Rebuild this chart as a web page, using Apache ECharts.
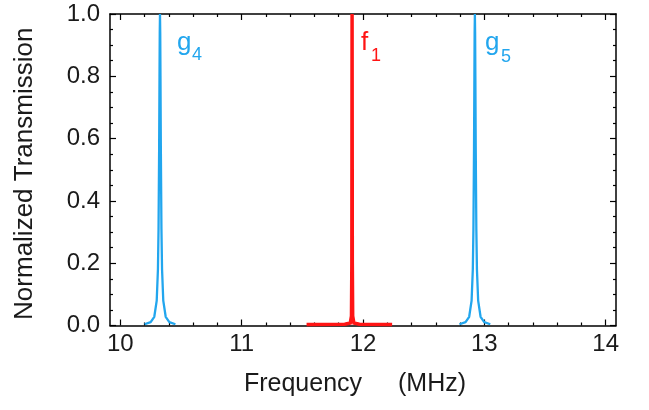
<!DOCTYPE html>
<html>
<head>
<meta charset="utf-8">
<script src="https://cdn.jsdelivr.net/npm/echarts@6/dist/echarts.min.js"></script>
<style>html,body{margin:0;padding:0;background:#fff}#c{width:649px;height:410px}</style>
</head>
<body>
<div id="c"></div>
<script>
// ---- data ----
const xMajorTicks = [10, 11, 12, 13, 14];
const xMinorTicks = [10.2, 10.4, 10.6, 10.8, 11.2, 11.4, 11.6, 11.8, 12.2, 12.4, 12.6, 12.8, 13.2, 13.4, 13.6, 13.8];
const yTickLabels = ['0.0', '0.2', '0.4', '0.6', '0.8', '1.0'];

// g4 resonance (blue)
const g4Freq = [10.200, 10.250, 10.280, 10.300, 10.310, 10.315, 10.320, 10.323, 10.325, 10.327, 10.329, 10.331, 10.334, 10.339, 10.344, 10.354, 10.374, 10.404, 10.454];
const g4Trans = [0.004, 0.011, 0.028, 0.080, 0.180, 0.310, 0.570, 0.800, 0.940, 1.000, 0.940, 0.800, 0.570, 0.310, 0.180, 0.080, 0.028, 0.011, 0.004];
// g5 resonance (blue)
const g5Freq = [12.795, 12.845, 12.875, 12.895, 12.905, 12.910, 12.915, 12.918, 12.920, 12.922, 12.924, 12.926, 12.929, 12.934, 12.939, 12.949, 12.969, 12.999, 13.049];
const g5Trans = [0.004, 0.011, 0.028, 0.080, 0.180, 0.310, 0.570, 0.800, 0.940, 1.000, 0.940, 0.800, 0.570, 0.310, 0.180, 0.080, 0.028, 0.011, 0.004];
// f1 resonance (red)
const f1Freq = [11.535, 11.850, 11.895, 11.905, 11.908, 11.910, 11.912, 11.915, 11.925, 11.970, 12.240];
const f1Trans = [0.003, 0.004, 0.008, 0.030, 0.200, 1.000, 0.200, 0.030, 0.008, 0.004, 0.003];

const BLUE = '#22a6ee';
const RED = '#ff1414';
const INK = '#1a1a1a';
const XMIN = 9.915, XMAX = 14.085;
const FONT = 'Liberation Sans, Arial, sans-serif';

function pairs(xs, ys) { return xs.map((x, i) => [x, ys[i]]); }

const chart = echarts.init(document.getElementById('c'), null, { renderer: 'canvas' });

const lineStyleAxis = { color: '#000', width: 1.5 };
function xAx(pos, ticks, len, showLine, showLabel) {
  return {
    type: 'value', position: pos, min: XMIN, max: XMAX,
    splitLine: { show: false },
    axisLine: { show: showLine, onZero: false, lineStyle: lineStyleAxis },
    axisTick: { show: true, inside: true, length: len, customValues: ticks, lineStyle: { color: '#000', width: 1.2 } },
    axisLabel: showLabel ? {
      show: true, customValues: ticks, margin: 7, color: INK,
      fontFamily: FONT, fontSize: 24,
      formatter: v => String(Math.round(v))
    } : { show: false }
  };
}

const option = {
  animation: false,
  backgroundColor: '#fff',
  grid: { left: 110, right: 33, top: 14, bottom: 84.5, containLabel: false },
  xAxis: [
    Object.assign(xAx('bottom', xMajorTicks, 6, true, true), {
      name: '{a|Frequency}{gap|}{a|(MHz)}',
      nameLocation: 'middle', nameGap: 46,
      nameTextStyle: {
        padding: [0, 16, 0, 0],
        rich: {
          a: { fontFamily: FONT, fontSize: 25, color: INK },
          gap: { width: 36 }
        }
      }
    }),
    xAx('bottom', xMinorTicks, 3, false, false),
    xAx('top', xMajorTicks, 6, true, false),
    xAx('top', xMinorTicks, 3, false, false)
  ],
  yAxis: [
    {
      type: 'value', position: 'left', min: 0, max: 1, interval: 0.2,
      splitLine: { show: false },
      axisLine: { show: true, onZero: false, lineStyle: lineStyleAxis },
      axisTick: { show: true, inside: true, length: 6, lineStyle: { color: '#000', width: 1.2 } },
      minorTick: { show: true, splitNumber: 4, length: 3, lineStyle: { color: '#000', width: 1.2 } },
      minorSplitLine: { show: false },
      axisLabel: {
        margin: 10, color: INK, fontFamily: FONT, fontSize: 24,
        formatter: v => yTickLabels[Math.round(v * 5)]
      },
      name: 'Normalized Transmission', nameLocation: 'middle', nameGap: 72,
      nameTextStyle: { fontFamily: FONT, fontSize: 26, color: INK, padding: [0, 8, 0, 0] }
    },
    {
      type: 'value', position: 'right', min: 0, max: 1, interval: 0.2,
      splitLine: { show: false },
      axisLine: { show: true, onZero: false, lineStyle: lineStyleAxis },
      axisTick: { show: true, inside: true, length: 6, lineStyle: { color: '#000', width: 1.2 } },
      minorTick: { show: true, splitNumber: 4, length: 3, lineStyle: { color: '#000', width: 1.2 } },
      axisLabel: { show: false }
    }
  ],
  series: [
    { type: 'line', name: 'g4', data: pairs(g4Freq, g4Trans), showSymbol: false, symbol: 'none', clip: true,
      lineStyle: { color: BLUE, width: 2.3 }, z: 3 },
    { type: 'line', name: 'g5', data: pairs(g5Freq, g5Trans), showSymbol: false, symbol: 'none', clip: true,
      lineStyle: { color: BLUE, width: 2.3 }, z: 3 },
    { type: 'line', name: 'f1', data: pairs(f1Freq, f1Trans), showSymbol: false, symbol: 'none', clip: true,
      lineStyle: { color: RED, width: 3.5, join: 'miter' }, z: 4 }
  ],
  graphic: [
    { type: 'text', x: 177, y: 43, style: { text: 'g', font: '26px "Liberation Sans", Arial, sans-serif', fill: BLUE, verticalAlign: 'middle' } },
    { type: 'text', x: 192, y: 55, style: { text: '4', font: '18px "Liberation Sans", Arial, sans-serif', fill: BLUE, verticalAlign: 'middle' } },
    { type: 'text', x: 361, y: 43, style: { text: 'f', font: '26px "Liberation Sans", Arial, sans-serif', fill: RED, verticalAlign: 'middle' } },
    { type: 'text', x: 371, y: 56, style: { text: '1', font: '18px "Liberation Sans", Arial, sans-serif', fill: RED, verticalAlign: 'middle' } },
    { type: 'text', x: 485, y: 43, style: { text: 'g', font: '26px "Liberation Sans", Arial, sans-serif', fill: BLUE, verticalAlign: 'middle' } },
    { type: 'text', x: 501, y: 57, style: { text: '5', font: '18px "Liberation Sans", Arial, sans-serif', fill: BLUE, verticalAlign: 'middle' } }
  ]
};
chart.setOption(option);
</script>
</body>
</html>
